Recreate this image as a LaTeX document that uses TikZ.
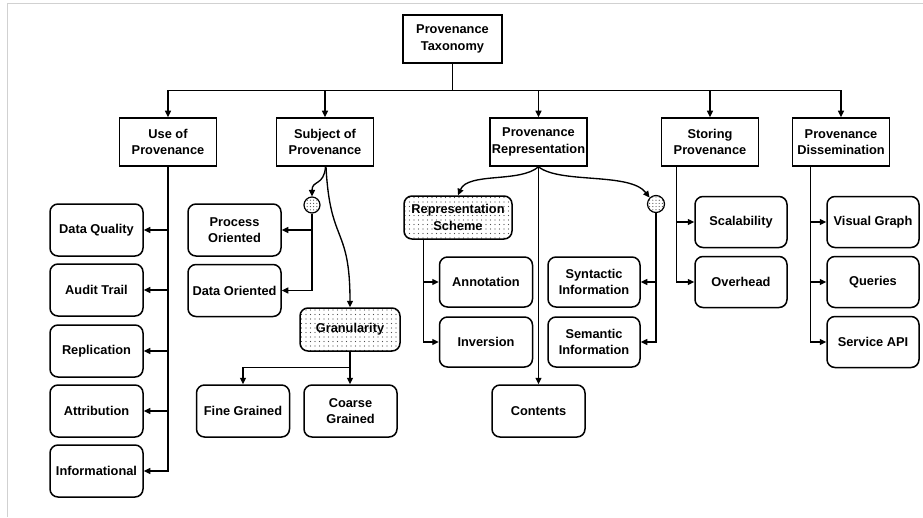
\documentclass[tikz,border=0pt]{standalone}
\usepackage{fontspec}
\setmainfont{Liberation Sans}
\usetikzlibrary{arrows.meta,patterns.meta,calc}
\begin{document}
\begin{tikzpicture}[x=1pt,y=-1pt,
  txt/.style={font=\bfseries\fontsize{12.8}{16.5}\selectfont, align=center, inner sep=1pt},
  topbox/.style={txt, draw, line width=1.6pt, minimum width=97pt, minimum height=48pt},
  leaf/.style={txt, draw, line width=1.5pt, rounded corners=8pt, minimum width=93pt, minimum height=52pt},
  dotted fill/.style={pattern={Dots[distance=4.5pt,radius=0.65pt]}, pattern color=black!70},
  dotbox/.style={leaf, dotted fill},
  junction/.style={circle, draw, line width=1.2pt, minimum size=16pt, inner sep=0pt,
    pattern={Dots[distance=3.2pt,radius=0.6pt]}, pattern color=black!70},
  conn/.style={line width=1.35pt},
  arr/.style={conn, -{Triangle[length=6.5pt,width=6pt]}}
]
\useasboundingbox (0,0) rectangle (923,517);
% thin frame along the top and left edges
\draw[black!18, line width=1pt] (7,517) -- (7,3) -- (923,3);

% root and first level
\node[topbox, minimum width=99pt] (root) at (452.5,39) {Provenance\\Taxonomy};
\node[topbox] (use)  at (168,142) {Use of\\Provenance};
\node[topbox] (subj) at (325,142) {Subject of\\Provenance};
\node[topbox] (rep)  at (538.5,142) {Provenance\\Representation};
\node[topbox] (stor) at (710,142) {Storing\\Provenance};
\node[topbox] (diss) at (841,142) {Provenance\\Dissemination};

\foreach \c in {use,subj,rep,stor,diss}
  \draw[arr] (root.south) -- ++(0,27) -| (\c.north);

% use of provenance
\node[leaf] (dq)   at (96.5,230) {Data Quality};
\node[leaf] (at)   at (96.5,290) {Audit Trail};
\node[leaf] (repl) at (96.5,351) {Replication};
\node[leaf] (attr) at (96.5,411) {Attribution};
\node[leaf] (info) at (96.5,471) {Informational};
\foreach \c in {dq,at,repl,attr,info}
  \draw[arr] (use.south) |- (\c.east);

% subject of provenance
\node[junction] (j1) at (312,205) {};
\node[leaf] (proc) at (234.5,230) {Process\\Oriented};
\node[leaf] (data) at (234.5,290.5) {Data Oriented};
\draw[arr] ([xshift=0.5pt]subj.south) .. controls (324,186) and (312,180) .. (j1.north);
\draw[arr] (j1.south) |- (proc.east);
\draw[arr] (j1.south) |- (data.east);

\node[dotbox, minimum width=100pt, minimum height=43pt] (gran) at (350,329.5) {Granularity};
\draw[arr] ([xshift=1pt]subj.south) .. controls (330,245) and (350,225) .. (gran.north);
\node[leaf] (fine)   at (243,411) {Fine Grained};
\node[leaf] (coarse) at (350.5,411) {Coarse\\Grained};
\draw[arr] (gran.south) -- ++(0,16) -| (fine.north);
\draw[arr] (gran.south) -- (gran.south |- coarse.north);

% provenance representation
\node[dotbox, minimum width=108pt, minimum height=43pt] (scheme) at (458,217.5) {Representation\\Scheme};
\node[leaf, minimum height=50pt] (ann) at (486,282) {Annotation};
\node[leaf, minimum height=50pt] (inv) at (486,342) {Inversion};
\draw[arr] (rep.south) .. controls (520,183) and (468,172) .. (scheme.north);
\draw[arr] ([xshift=20pt]scheme.south west) |- (ann.west);
\draw[arr] ([xshift=20pt]scheme.south west) |- (inv.west);

\node[junction, minimum height=17pt] (j2) at (656,204) {};
\node[leaf, minimum width=92pt, minimum height=50pt] (syn) at (594,282) {Syntactic\\Information};
\node[leaf, minimum width=92pt, minimum height=50pt] (sem) at (594,342) {Semantic\\Information};
\draw[arr] (rep.south) .. controls (560,184) and (630,172) .. (j2.north west);
\draw[arr] (j2.south) |- (syn.east);
\draw[arr] (j2.south) |- (sem.east);

\node[leaf] (cont) at (538.5,411) {Contents};
\draw[arr] (rep.south) -- (cont.north);

% storing provenance
\node[leaf, minimum width=92pt, minimum height=51pt] (scal) at (741,222) {Scalability};
\node[leaf, minimum width=92pt, minimum height=51pt] (over) at (741,282) {Overhead};
\draw[arr] ([xshift=16pt]stor.south west) |- (scal.west);
\draw[arr] ([xshift=16pt]stor.south west) |- (over.west);

% provenance dissemination
\node[leaf, minimum width=92pt, minimum height=51pt] (vis) at (873,222) {Visual Graph};
\node[leaf, minimum width=92pt, minimum height=51pt] (qry) at (873,282) {Queries};
\node[leaf, minimum width=92pt, minimum height=51pt] (api) at (873,342) {Service API};
\foreach \c in {vis,qry,api}
  \draw[arr] ([xshift=19pt]diss.south west) |- (\c.west);
\end{tikzpicture}
\end{document}
